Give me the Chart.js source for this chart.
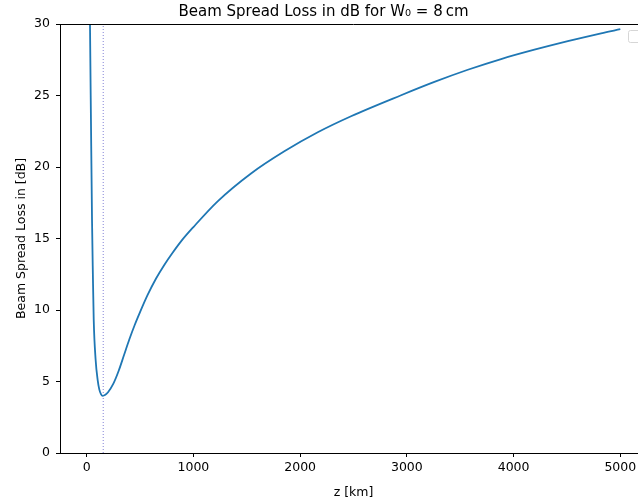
<!DOCTYPE html>
<html><head><meta charset="utf-8">
<script src="https://cdn.jsdelivr.net/npm/chart.js@4/dist/chart.umd.min.js"></script>
<style>
html,body{margin:0;padding:0;overflow:hidden;background:#fff;width:638px;height:500px}
#wrap{position:relative;width:660px;height:500px}
canvas{display:block}
</style></head><body>
<div id="wrap"><canvas id="c" width="660" height="500"></canvas></div>
<script>
// Data
const zKm = [25, 31, 40, 50, 58, 66, 84, 103, 118, 135, 150, 175, 200, 250, 300, 350, 400, 450, 500, 571, 650, 727, 800, 884, 1000, 1227, 1540, 1852, 2165, 2477, 2946, 3258, 3571, 3883, 4195, 4508, 4820, 5000];
const lossDb = [36, 30, 23.3, 16.3, 12.5, 9.3, 6.5, 5.1, 4.45, 4.1, 4.0, 4.07, 4.25, 4.85, 5.75, 6.85, 7.95, 8.95, 9.85, 11.05, 12.2, 13.15, 13.95, 14.8, 15.8, 17.6, 19.55, 21.1, 22.43, 23.55, 25.02, 25.95, 26.8, 27.55, 28.2, 28.8, 29.35, 29.64];
const optimalZ = [155];
const xTickValues = [0, 1000, 2000, 3000, 4000, 5000];
const yTickValues = [0, 5, 10, 15, 20, 25, 30];
const xRange = [-250, 5250];
const yRange = [0, 30];

const FONT = "'DejaVu Sans', 'Liberation Sans', sans-serif";
const curve = zKm.map((z, i) => ({x: z, y: lossDb[i]}));
const vline = [{x: optimalZ[0], y: yRange[0]}, {x: optimalZ[0], y: yRange[1]}];

const extras = {
  id: 'extras',
  afterDraw(chart) {
    const {ctx, chartArea: a} = chart;
    ctx.save();
    ctx.strokeStyle = '#000';
    ctx.lineWidth = 1;
    ctx.beginPath();
    ctx.moveTo(a.left, Math.round(a.top) + 0.5);
    ctx.lineTo(a.right, Math.round(a.top) + 0.5);
    ctx.stroke();
    // empty legend frame
    ctx.strokeStyle = '#d6d6d6';
    ctx.fillStyle = 'rgba(255,255,255,0.8)';
    const x = a.right - 18.5, y = a.top + 6.5, w = 12, h = 12, r = 2;
    ctx.beginPath();
    ctx.moveTo(x + r, y);
    ctx.lineTo(x + w - r, y); ctx.quadraticCurveTo(x + w, y, x + w, y + r);
    ctx.lineTo(x + w, y + h - r); ctx.quadraticCurveTo(x + w, y + h, x + w - r, y + h);
    ctx.lineTo(x + r, y + h); ctx.quadraticCurveTo(x, y + h, x, y + h - r);
    ctx.lineTo(x, y + r); ctx.quadraticCurveTo(x, y, x + r, y);
    ctx.fill(); ctx.stroke();
    ctx.restore();
  }
};

new Chart(document.getElementById('c'), {
  type: 'line',
  data: {
    datasets: [
      {
        label: 'Beam Spread Loss',
        data: curve,
        borderColor: '#1f77b4',
        borderWidth: 1.8,
        pointRadius: 0,
        fill: false,
        cubicInterpolationMode: 'monotone'
      },
      {
        label: 'optimum',
        data: vline,
        borderColor: 'rgba(90,90,200,0.75)',
        borderWidth: 1,
        borderDash: [1, 2],
        pointRadius: 0,
        fill: false
      }
    ]
  },
  options: {
    responsive: false,
    animation: false,
    devicePixelRatio: 1,
    layout: {padding: {left: 0, right: 13, top: 0, bottom: 0}},
    plugins: {
      legend: {display: false},
      tooltip: {enabled: false},
      title: {
        display: true,
        text: 'Beam Spread Loss in dB for W\u2080 = 8\u2009cm',
        color: '#000',
        font: {family: FONT, size: 15, weight: 'normal'},
        padding: {top: 3, bottom: 3}
      }
    },
    scales: {
      x: {
        type: 'linear',
        min: xRange[0],
        max: xRange[1],
        afterBuildTicks: s => { s.ticks = xTickValues.map(v => ({value: v})); },
        afterFit: s => { s.height = 47; },
        ticks: {color: '#000', font: {family: FONT, size: 12.5}, padding: 3, maxRotation: 0, callback: v => String(v)},
        grid: {drawOnChartArea: false, drawTicks: true, tickLength: 4, color: '#000'},
        border: {display: true, color: '#000', width: 1},
        title: {display: true, text: 'z [km]', color: '#000', font: {family: FONT, size: 12.5}, padding: {top: 5, bottom: 0}}
      },
      y: {
        type: 'linear',
        min: yRange[0],
        max: yRange[1],
        afterBuildTicks: s => { s.ticks = yTickValues.map(v => ({value: v})); },
        afterFit: s => { s.width = 60; },
        ticks: {color: '#000', font: {family: FONT, size: 12.5}, padding: 6},
        grid: {drawOnChartArea: false, drawTicks: true, tickLength: 4, color: '#000'},
        border: {display: true, color: '#000', width: 1},
        title: {display: true, text: 'Beam Spread Loss in [dB]', color: '#000', font: {family: FONT, size: 12.5}, padding: {top: 14, bottom: 0}}
      }
    }
  },
  plugins: [extras]
});
</script>
</body></html>
